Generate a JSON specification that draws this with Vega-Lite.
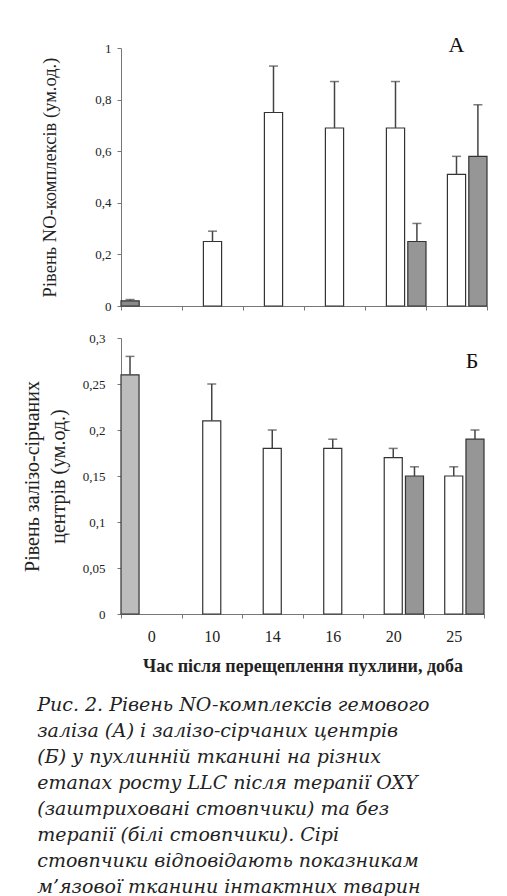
{
  "$schema": "https://vega.github.io/schema/vega-lite/v6.json",
  "padding": {"left": 22, "top": 34, "right": 0, "bottom": 0},
  "background": "white",
  "config": {
    "locale": {"number": {"decimal": ",", "thousands": " ", "grouping": [3], "currency": ["", ""]}},
    "view": {"stroke": null},
    "axis": {"domainColor": "#777", "tickColor": "#777", "tickSize": 4, "labelFont": "Liberation Serif", "labelColor": "#222", "titleFont": "Liberation Serif", "titleColor": "#222", "grid": false, "titleFontWeight": "normal"}
  },
  "datasets": {
    "a": [
      {"day": "0", "group": "intact", "v": 0.02, "e": 0.025},
      {"day": "10", "group": "no", "v": 0.25, "e": 0.29},
      {"day": "14", "group": "no", "v": 0.75, "e": 0.93},
      {"day": "16", "group": "no", "v": 0.69, "e": 0.87},
      {"day": "20", "group": "no", "v": 0.69, "e": 0.87},
      {"day": "20", "group": "oxy", "v": 0.25, "e": 0.32},
      {"day": "25", "group": "no", "v": 0.51, "e": 0.58},
      {"day": "25", "group": "oxy", "v": 0.58, "e": 0.78}
    ],
    "b": [
      {"day": "0", "group": "intact", "v": 0.26, "e": 0.28},
      {"day": "10", "group": "no", "v": 0.21, "e": 0.25},
      {"day": "14", "group": "no", "v": 0.18, "e": 0.2},
      {"day": "16", "group": "no", "v": 0.18, "e": 0.19},
      {"day": "20", "group": "no", "v": 0.17, "e": 0.18},
      {"day": "20", "group": "oxy", "v": 0.15, "e": 0.16},
      {"day": "25", "group": "no", "v": 0.15, "e": 0.16},
      {"day": "25", "group": "oxy", "v": 0.19, "e": 0.2}
    ]
  },
  "title": {
    "text": [
      "Рис. 2. Рівень NO-комплексів гемового",
      "заліза (А) і залізо-сірчаних центрів",
      "(Б) у пухлинній тканині на різних",
      "етапах росту LLC після терапії OXY",
      "(заштриховані стовпчики) та без",
      "терапії (білі стовпчики). Сірі",
      "стовпчики відповідають показникам",
      "м’язової тканини інтактних тварин"
    ],
    "orient": "bottom", "anchor": "start", "font": "DejaVu Serif", "fontStyle": "italic", "fontSize": 19, "fontWeight": "normal", "lineHeight": 26, "offset": 21, "dx": 15, "color": "#222"
  },
  "spacing": 19,
  "resolve": {"scale": {"fill": "independent", "y": "independent", "x": "independent", "xOffset": "independent"}},
  "vconcat": [
    {
      "width": 366, "height": 258,
      "data": {"name": "a"},
      "encoding": {
        "x": {"field": "day", "type": "nominal", "sort": ["0", "10", "14", "16", "20", "25"], "scale": {"paddingInner": 0, "paddingOuter": 0}, "axis": {"labels": false, "title": null, "tickBand": "extent"}},
        "xOffset": {"field": "group", "scale": {"domain": ["intact", "no", "oxy"], "paddingInner": 0.15, "paddingOuter": 0}}
      },
      "layer": [
        {
          "mark": {"type": "bar", "stroke": "#333", "strokeWidth": 1.2},
          "encoding": {
            "y": {"field": "v", "type": "quantitative", "scale": {"domain": [0, 1]}, "axis": {"values": [0, 0.2, 0.4, 0.6, 0.8, 1], "format": ".1~f", "labelFontSize": 13, "labelPadding": 6, "title": "Рівень NO-комплексів (ум.од.)", "titleFontSize": 18.5, "titlePadding": 35}},
            "fill": {"field": "group", "scale": {"domain": ["intact", "no", "oxy"], "range": ["#8a8a8a", "#ffffff", "#969696"]}, "legend": null}
          }
        },
        {
          "mark": {"type": "rule", "color": "#444", "strokeWidth": 1.5},
          "encoding": {"y": {"field": "e", "type": "quantitative"}, "y2": {"field": "v"}}
        },
        {
          "mark": {"type": "tick", "color": "#444", "thickness": 1.5, "size": 9},
          "encoding": {"y": {"field": "e", "type": "quantitative"}}
        },
        {
          "data": {"values": [{"t": "А"}]},
          "mark": {"type": "text", "font": "Liberation Serif", "fontSize": 22, "baseline": "middle", "align": "center", "dy": -3, "color": "#111"},
          "encoding": {"x": {"datum": "25"}, "xOffset": {"datum": "no"}, "y": {"datum": 1}, "text": {"field": "t"}}
        }
      ]
    },
    {
      "width": 363, "height": 276,
      "data": {"name": "b"},
      "encoding": {
        "x": {"field": "day", "type": "nominal", "sort": ["0", "10", "14", "16", "20", "25"], "scale": {"paddingInner": 0, "paddingOuter": 0}, "axis": {"labelAngle": 0, "labelFontSize": 16, "labelPadding": 10, "tickBand": "extent", "title": "Час після перещеплення пухлини, доба", "titleFontWeight": "bold", "titleFontSize": 18, "titlePadding": 13}},
        "xOffset": {"field": "group", "scale": {"domain": ["intact", "no", "oxy"], "paddingInner": 0.15, "paddingOuter": 0}}
      },
      "layer": [
        {
          "mark": {"type": "bar", "stroke": "#333", "strokeWidth": 1.2},
          "encoding": {
            "y": {"field": "v", "type": "quantitative", "scale": {"domain": [0, 0.3]}, "axis": {"values": [0, 0.05, 0.1, 0.15, 0.2, 0.25, 0.3], "format": ".2~f", "labelFontSize": 13, "labelPadding": 12, "title": ["Рівень залізо-сірчаних", "центрів (ум.од.)"], "titleFontSize": 20, "titleLineHeight": 26, "titlePadding": 14}},
            "fill": {"field": "group", "scale": {"domain": ["intact", "no", "oxy"], "range": ["#bdbdbd", "#ffffff", "#969696"]}, "legend": null}
          }
        },
        {
          "mark": {"type": "rule", "color": "#444", "strokeWidth": 1.5},
          "encoding": {"y": {"field": "e", "type": "quantitative"}, "y2": {"field": "v"}}
        },
        {
          "mark": {"type": "tick", "color": "#444", "thickness": 1.5, "size": 9},
          "encoding": {"y": {"field": "e", "type": "quantitative"}}
        },
        {
          "data": {"values": [{"t": "Б"}]},
          "mark": {"type": "text", "font": "Liberation Serif", "fontSize": 22, "baseline": "middle", "align": "center", "dx": -3, "color": "#111"},
          "encoding": {"x": {"datum": "25"}, "xOffset": {"datum": "oxy"}, "y": {"datum": 0.275}, "text": {"field": "t"}}
        }
      ]
    }
  ]
}
